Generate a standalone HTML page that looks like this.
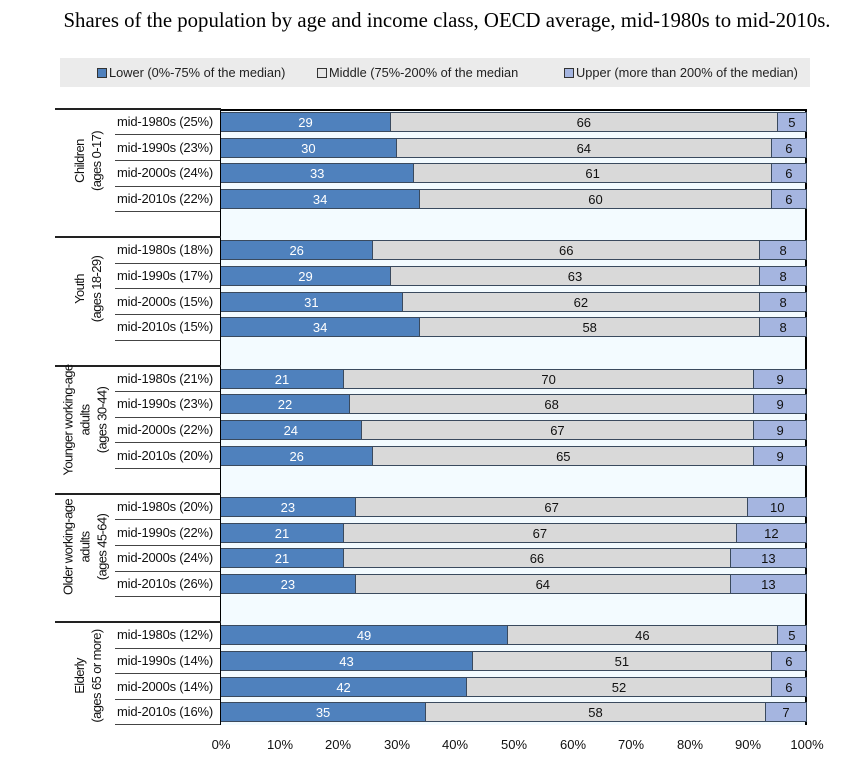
<!DOCTYPE html>
<html><head><meta charset="utf-8"><style>
body{margin:0;width:847px;height:770px;background:#fff;position:relative;font-family:"Liberation Sans",Arial,sans-serif;overflow:hidden}
.a{position:absolute}
.title{left:0;width:894px;top:9px;text-align:center;font-family:"Liberation Serif",serif;font-size:20.8px;color:#000;white-space:nowrap}
.leg{left:60px;top:58px;width:750px;height:29px;background:#ebebeb;font-size:12.8px;color:#222}
.li{position:absolute;top:7px;white-space:nowrap}
.sq{display:inline-block;width:8px;height:8px;border:1px solid #333;margin-right:2px;vertical-align:-1px}
.plot{left:221px;top:109px;width:586px;height:616px;background:#f3fbff;border-top:2px solid #000;border-right:2px solid #000;box-sizing:border-box}
.yax{left:220px;top:109px;width:1px;height:616px;background:#000}
.row{position:absolute;left:221px;width:586px;height:20px;display:flex;font-size:13px;line-height:20px;text-align:center}
.row div{box-sizing:border-box;border:1px solid #3a4a5e;border-left:none}
.l{background:#4f81bd;color:#fff}
.m{background:#d9d9d9;color:#111;flex:1}
.u{background:#a5b5e0;color:#111}
.lab{position:absolute;right:634px;font-size:13px;color:#111;white-space:nowrap;letter-spacing:-0.2px}
.hl{position:absolute;height:1px;background:#444}
.grp{position:absolute;font-size:13px;color:#111;text-align:center;line-height:17px;transform:translate(-50%,-50%) rotate(-90deg);white-space:nowrap;letter-spacing:-0.6px}
.tk{position:absolute;top:737px;font-size:13px;width:50px;margin-left:-25px;text-align:center;color:#111}
</style></head><body>
<div class="a title">Shares of the population by age and income class, OECD average, mid-1980s to mid-2010s.</div>
<div class="a leg">
<span class="li" style="left:37px"><span class="sq" style="background:#4f81bd"></span>Lower (0%-75% of the median)</span>
<span class="li" style="left:257px"><span class="sq" style="background:#e6e6e6"></span>Middle (75%-200% of the median</span>
<span class="li" style="left:504px"><span class="sq" style="background:#a5b5e0"></span>Upper (more than 200% of the median)</span>
</div>
<div class="a plot"></div>
<div class="a yax"></div>

<div class="hl" style="left:55px;width:166px;top:108px;background:#222;height:2px"></div>
<div class="hl" style="left:55px;width:166px;top:236px;background:#222;height:2px"></div>
<div class="hl" style="left:55px;width:166px;top:365px;background:#222;height:2px"></div>
<div class="hl" style="left:55px;width:166px;top:493px;background:#222;height:2px"></div>
<div class="hl" style="left:55px;width:166px;top:621px;background:#222;height:2px"></div>
<div class="hl" style="left:115px;width:105px;top:134px"></div>
<div class="hl" style="left:115px;width:105px;top:160px"></div>
<div class="hl" style="left:115px;width:105px;top:186px"></div>
<div class="hl" style="left:115px;width:105px;top:211px"></div>
<div class="hl" style="left:115px;width:105px;top:263px"></div>
<div class="hl" style="left:115px;width:105px;top:288px"></div>
<div class="hl" style="left:115px;width:105px;top:314px"></div>
<div class="hl" style="left:115px;width:105px;top:340px"></div>
<div class="hl" style="left:115px;width:105px;top:391px"></div>
<div class="hl" style="left:115px;width:105px;top:417px"></div>
<div class="hl" style="left:115px;width:105px;top:442px"></div>
<div class="hl" style="left:115px;width:105px;top:468px"></div>
<div class="hl" style="left:115px;width:105px;top:519px"></div>
<div class="hl" style="left:115px;width:105px;top:545px"></div>
<div class="hl" style="left:115px;width:105px;top:571px"></div>
<div class="hl" style="left:115px;width:105px;top:596px"></div>
<div class="hl" style="left:115px;width:105px;top:648px"></div>
<div class="hl" style="left:115px;width:105px;top:673px"></div>
<div class="hl" style="left:115px;width:105px;top:699px"></div>
<div class="hl" style="left:115px;width:105px;top:724px"></div>

<div class="grp" style="left:88px;top:161px">Children<br>(ages 0-17)</div>
<div class="grp" style="left:88px;top:289px">Youth<br>(ages 18-29)</div>
<div class="grp" style="left:85px;top:420px">Younger working-age<br>adults<br>(ages 30-44)</div>
<div class="grp" style="left:85px;top:547px">Older working-age<br>adults<br>(ages 45-64)</div>
<div class="grp" style="left:88px;top:676px">Elderly<br>(ages 65 or more)</div>

<div class="lab" style="top:114px">mid-1980s (25%)</div>
<div class="lab" style="top:140px">mid-1990s (23%)</div>
<div class="lab" style="top:165px">mid-2000s (24%)</div>
<div class="lab" style="top:191px">mid-2010s (22%)</div>
<div class="lab" style="top:242px">mid-1980s (18%)</div>
<div class="lab" style="top:268px">mid-1990s (17%)</div>
<div class="lab" style="top:294px">mid-2000s (15%)</div>
<div class="lab" style="top:319px">mid-2010s (15%)</div>
<div class="lab" style="top:371px">mid-1980s (21%)</div>
<div class="lab" style="top:396px">mid-1990s (23%)</div>
<div class="lab" style="top:422px">mid-2000s (22%)</div>
<div class="lab" style="top:448px">mid-2010s (20%)</div>
<div class="lab" style="top:499px">mid-1980s (20%)</div>
<div class="lab" style="top:525px">mid-1990s (22%)</div>
<div class="lab" style="top:550px">mid-2000s (24%)</div>
<div class="lab" style="top:576px">mid-2010s (26%)</div>
<div class="lab" style="top:627px">mid-1980s (12%)</div>
<div class="lab" style="top:653px">mid-1990s (14%)</div>
<div class="lab" style="top:679px">mid-2000s (14%)</div>
<div class="lab" style="top:704px">mid-2010s (16%)</div>

<div class="row" style="top:112px"><div class="l" style="width:29%">29</div><div class="m">66</div><div class="u" style="width:5%">5</div></div>
<div class="row" style="top:138px"><div class="l" style="width:30%">30</div><div class="m">64</div><div class="u" style="width:6%">6</div></div>
<div class="row" style="top:163px"><div class="l" style="width:33%">33</div><div class="m">61</div><div class="u" style="width:6%">6</div></div>
<div class="row" style="top:189px"><div class="l" style="width:34%">34</div><div class="m">60</div><div class="u" style="width:6%">6</div></div>

<div class="row" style="top:240px"><div class="l" style="width:26%">26</div><div class="m">66</div><div class="u" style="width:8%">8</div></div>
<div class="row" style="top:266px"><div class="l" style="width:29%">29</div><div class="m">63</div><div class="u" style="width:8%">8</div></div>
<div class="row" style="top:292px"><div class="l" style="width:31%">31</div><div class="m">62</div><div class="u" style="width:8%">8</div></div>
<div class="row" style="top:317px"><div class="l" style="width:34%">34</div><div class="m">58</div><div class="u" style="width:8%">8</div></div>

<div class="row" style="top:369px"><div class="l" style="width:21%">21</div><div class="m">70</div><div class="u" style="width:9%">9</div></div>
<div class="row" style="top:394px"><div class="l" style="width:22%">22</div><div class="m">68</div><div class="u" style="width:9%">9</div></div>
<div class="row" style="top:420px"><div class="l" style="width:24%">24</div><div class="m">67</div><div class="u" style="width:9%">9</div></div>
<div class="row" style="top:446px"><div class="l" style="width:26%">26</div><div class="m">65</div><div class="u" style="width:9%">9</div></div>

<div class="row" style="top:497px"><div class="l" style="width:23%">23</div><div class="m">67</div><div class="u" style="width:10%">10</div></div>
<div class="row" style="top:523px"><div class="l" style="width:21%">21</div><div class="m">67</div><div class="u" style="width:12%">12</div></div>
<div class="row" style="top:548px"><div class="l" style="width:21%">21</div><div class="m">66</div><div class="u" style="width:13%">13</div></div>
<div class="row" style="top:574px"><div class="l" style="width:23%">23</div><div class="m">64</div><div class="u" style="width:13%">13</div></div>

<div class="row" style="top:625px"><div class="l" style="width:49%">49</div><div class="m">46</div><div class="u" style="width:5%">5</div></div>
<div class="row" style="top:651px"><div class="l" style="width:43%">43</div><div class="m">51</div><div class="u" style="width:6%">6</div></div>
<div class="row" style="top:677px"><div class="l" style="width:42%">42</div><div class="m">52</div><div class="u" style="width:6%">6</div></div>
<div class="row" style="top:702px"><div class="l" style="width:35%">35</div><div class="m">58</div><div class="u" style="width:7%">7</div></div>

<div class="tk" style="left:221px">0%</div>
<div class="tk" style="left:280px">10%</div>
<div class="tk" style="left:338px">20%</div>
<div class="tk" style="left:397px">30%</div>
<div class="tk" style="left:455px">40%</div>
<div class="tk" style="left:514px">50%</div>
<div class="tk" style="left:573px">60%</div>
<div class="tk" style="left:631px">70%</div>
<div class="tk" style="left:690px">80%</div>
<div class="tk" style="left:748px">90%</div>
<div class="tk" style="left:807px">100%</div>
</body></html>
